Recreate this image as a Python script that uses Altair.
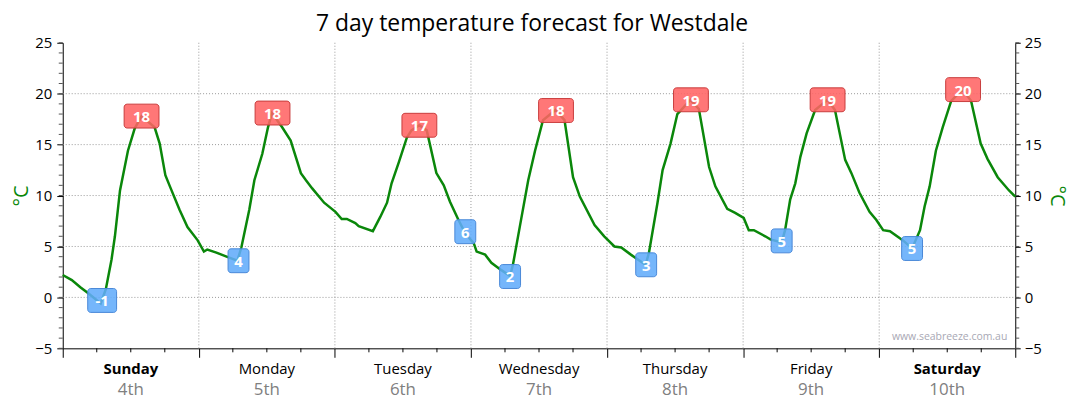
import altair as alt
import pandas as pd

# ---- data ----
hours = [0, 1.6, 3.1, 4.5, 6.7, 7.6, 8.6, 9.2, 10.1, 11.5, 12.7, 13.9, 16.2, 17.1, 18.1, 18.9,
         20.6, 22.0, 23.8, 24.9, 25.5, 27.1, 28.9, 30.8, 31.5, 32.9, 33.8, 35.2, 36.2, 36.9,
         38.7, 40.2, 42.0, 42.9, 44.0, 46.1, 48.1, 49.2, 50.1, 51.6, 52.2, 54.7, 56.0, 57.2,
         58.0, 59.3, 60.7, 61.5, 62.9, 64.2, 65.9, 67.2, 68.3, 69.8, 71.0, 72.5, 73.0, 74.5,
         75.6, 77.3, 78.9, 79.4, 80.6, 82.1, 83.3, 84.7, 86.9, 88.5, 90.0, 91.2, 93.8, 95.5,
         97.3, 98.5, 100.2, 102.8, 103.4, 104.9, 105.8, 107.2, 108.4, 110.7, 112.2, 114.0,
         115.1, 117.2, 118.6, 120.1, 121.0, 121.9, 123.9, 124.8, 126.8, 127.4, 128.3, 129.2,
         130.1, 131.2, 132.7, 134.9, 136.2, 138.0, 139.1, 140.5, 142.3, 143.5, 144.7, 145.9,
         148.2, 149.8, 151.2, 152.0, 152.9, 154.0, 155.2, 156.7, 158.7, 160.2, 161.9, 163.1,
         164.9, 166.9, 168.0]
temps = [2.2, 1.7, 1.0, 0.4, -0.6, 0.8, 3.7, 6.0, 10.5, 14.4, 16.6, 17.8, 16.7, 15.1, 12.0, 10.9,
         8.6, 6.9, 5.6, 4.5, 4.7, 4.4, 4.0, 3.6, 4.9, 8.6, 11.5, 14.1, 16.7, 18.1,
         16.7, 15.4, 12.2, 11.5, 10.7, 9.3, 8.4, 7.7, 7.7, 7.3, 7.0, 6.5, 7.9, 9.3,
         11.2, 13.3, 15.7, 16.4, 16.9, 16.4, 12.2, 11.0, 9.4, 7.6, 6.3, 5.3, 4.5, 4.2,
         3.4, 2.7, 2.1, 3.2, 6.9, 11.5, 14.4, 17.4, 18.4, 17.4, 11.8, 9.9, 7.1, 6.0,
         5.0, 4.9, 4.2, 3.2, 4.4, 9.3, 12.5, 15.1, 18.0, 19.4, 18.5, 12.8,
         10.9, 8.7, 8.3, 7.8, 6.6, 6.6, 6.0, 5.7, 5.4, 6.6, 9.6, 11.2,
         13.8, 16.1, 18.4, 19.4, 18.4, 13.5, 12.2, 10.3, 8.4, 7.6, 6.6, 6.5,
         5.6, 4.8, 6.6, 8.9, 10.9, 14.4, 16.7, 19.3, 20.4, 19.3, 15.1, 13.6,
         11.8, 10.5, 9.9]

lab_hours = [6.95, 13.9, 31.0, 37.0, 62.9, 71.0, 78.9, 87.0, 102.9, 110.8, 126.8, 134.9, 149.8, 158.8]
lab_temps = [-0.3, 17.8, 3.6, 18.1, 16.9, 6.45, 2.05, 18.35, 3.2, 19.4, 5.55, 19.4, 4.8, 20.4]
lab_text = ["-1", "18", "4", "18", "17", "6", "2", "18", "3", "19", "5", "19", "5", "20"]
lab_kind = ["min", "max", "min", "max", "max", "min", "min", "max", "min", "max", "min", "max", "min", "max"]

days = ["Sunday", "Monday", "Tuesday", "Wednesday", "Thursday", "Friday", "Saturday"]
dates = ["4th", "5th", "6th", "7th", "8th", "9th", "10th"]
weekend = [True, False, False, False, False, False, True]
day_mid = [12, 36, 60, 84, 108, 132, 156]

day_bounds = [0, 24, 48, 72, 96, 120, 144, 168]
grid_temps = [0, 5, 10, 15, 20]
major_temps = [-5, 0, 5, 10, 15, 20, 25]
minor_temps = list(range(-5, 26))
minor_hours = [h for h in range(6, 168, 6) if h % 24 != 0]

# ---- layout ----
W, H = 957, 307
PXH = W / 168.0
PXT = H / 30.0
FONT = "Open Sans"
GREEN = "#0a870a"

line_df = pd.DataFrame({"h": hours, "v": temps})
lab_df = pd.DataFrame({"h": lab_hours, "v": lab_temps, "t": lab_text, "kind": lab_kind})
day_df = pd.DataFrame({"h": day_mid, "day": days, "date": dates, "we": weekend})
vb_df = pd.DataFrame({"h": day_bounds[1:-1]})
hg_df = pd.DataFrame({"v": grid_temps})
mt_df = pd.DataFrame({"v": minor_temps})
mh_df = pd.DataFrame({"h": minor_hours})

xs = alt.Scale(domain=[0, 168], nice=False, zero=False)
ys = alt.Scale(domain=[-5, 25], nice=False, zero=False)

xaxis = alt.Axis(values=day_bounds, labels=False, title=None, tickSize=9, tickColor="black",
                 domainColor="black", grid=False)
X = lambda f: alt.X(f, scale=xs, axis=xaxis)

left_axis = alt.Axis(values=major_temps, title="°C", titleColor=GREEN, titleFontSize=20,
                     titleFont=FONT, titleFontWeight="normal", titlePadding=3,
                     labelFont=FONT, labelFontSize=15, labelColor="black", labelPadding=5,
                     tickSize=6, tickColor="black", domainColor="black", grid=False)
right_axis = alt.Axis(values=major_temps, title="°C", titleColor=GREEN, titleFontSize=20,
                      titleFont=FONT, titleFontWeight="normal", titlePadding=5, orient="right",
                      labelFont=FONT, labelFontSize=15, labelColor="black", labelPadding=4,
                      tickSize=5, tickColor="black", domainColor="black", grid=False)

hgrid = alt.Chart(hg_df).mark_rule(color="#999999", strokeDash=[1, 2], strokeWidth=1).encode(
    y=alt.Y("v:Q", scale=ys, axis=left_axis),
    x=alt.value(0), x2=alt.value(W),
)
vgrid = alt.Chart(vb_df).mark_rule(color="#999999", strokeDash=[1, 2], strokeWidth=1).encode(
    x=X("h:Q"), y=alt.value(0), y2=alt.value(H),
)
minor_left = alt.Chart(mt_df).mark_rule(color="#555555").encode(
    y=alt.Y("v:Q", scale=ys, axis=None), x=alt.value(-4), x2=alt.value(0),
)
minor_right = alt.Chart(mt_df).mark_rule(color="#555555").encode(
    y=alt.Y("v:Q", scale=ys, axis=right_axis), x=alt.value(W), x2=alt.value(W + 4),
)
minor_x = alt.Chart(mh_df).mark_rule(color="black").encode(
    x=X("h:Q"), y=alt.value(H), y2=alt.value(H + 4),
)

line = alt.Chart(line_df).mark_line(color=GREEN, strokeWidth=2.5).encode(
    x=X("h:Q"), y=alt.Y("v:Q", scale=ys, axis=None),
)

boxes = alt.Chart(lab_df).transform_calculate(
    bw="length(datum.t) == 1 ? 21 : (substring(datum.t, 0, 1) == '-' ? 29 : 35)"
).transform_calculate(
    x1=f"datum.h - datum.bw / 2 / {PXH}",
    x2=f"datum.h + datum.bw / 2 / {PXH}",
    y1=f"datum.v - 12 / {PXT}",
    y2=f"datum.v + 12 / {PXT}",
).mark_rect(cornerRadius=3, strokeWidth=1, fillOpacity=0.88).encode(
    x=X("x1:Q"), x2="x2:Q",
    y=alt.Y("y1:Q", scale=ys, axis=None), y2="y2:Q",
    fill=alt.Fill("kind:N", scale=alt.Scale(domain=["max", "min"], range=["#ff6464", "#62acfa"]), legend=None),
    stroke=alt.Stroke("kind:N", scale=alt.Scale(domain=["max", "min"], range=["#c93c3c", "#4a88d8"]), legend=None),
)
box_text = alt.Chart(lab_df).mark_text(color="white", font=FONT, fontSize=15, fontWeight="bold",
                                       baseline="middle", align="center", dy=1).encode(
    x=X("h:Q"), y=alt.Y("v:Q", scale=ys, axis=None), text="t:N",
)

day_bold = alt.Chart(day_df).transform_filter("datum.we").mark_text(
    font=FONT, fontSize=15, fontWeight="bold", color="black", baseline="middle").encode(
    x=X("h:Q"), y=alt.value(H + 21), text="day:N")
day_norm = alt.Chart(day_df).transform_filter("!datum.we").mark_text(
    font=FONT, fontSize=15, color="black", baseline="middle").encode(
    x=X("h:Q"), y=alt.value(H + 21), text="day:N")
date_txt = alt.Chart(day_df).mark_text(
    font=FONT, fontSize=17, color="#808080", baseline="middle").encode(
    x=X("h:Q"), y=alt.value(H + 42), text="date:N")

watermark = alt.Chart(day_df.head(1)).mark_text(
    font=FONT, fontSize=10.5, color="#a8a8b4", align="right", baseline="middle").encode(
    x=alt.value(W - 8), y=alt.value(H - 11), text=alt.value("www.seabreeze.com.au"))

chart = alt.layer(
    hgrid, vgrid, minor_left, minor_right, minor_x, line, boxes, box_text,
    day_bold, day_norm, date_txt, watermark,
).resolve_axis(y="independent").properties(
    width=W, height=H,
    title=alt.TitleParams("7 day temperature forecast for Westdale", font=FONT, fontSize=23,
                          fontWeight="normal", color="black", anchor="middle", offset=0, dx=-7),
    autosize=alt.AutoSizeParams(type="none"),
    padding={"left": 55, "top": 34, "right": 57, "bottom": 53},
).configure_view(stroke=None)

chart.save("out.html", embed_options={"renderer": "svg", "actions": False})
